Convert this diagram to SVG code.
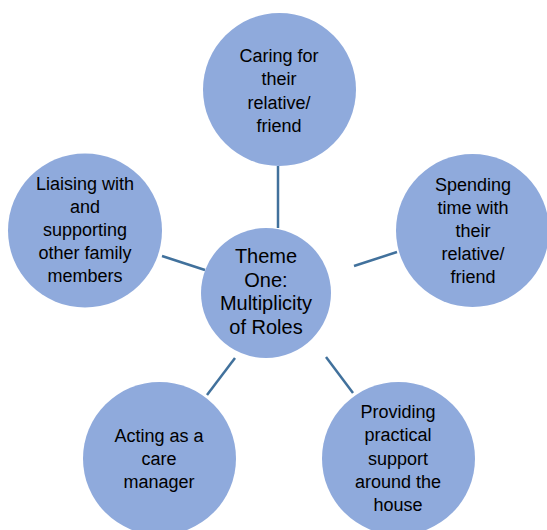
<svg xmlns="http://www.w3.org/2000/svg" width="547" height="530" viewBox="0 0 547 530">
<style>
.n{fill:#8FAADC;}
.t{font-family:"Liberation Sans",Arial,sans-serif;font-size:18px;fill:#000;text-anchor:middle;}
.c{font-size:20px;}
.e{stroke:#41719C;stroke-width:2.5;fill:none;}
</style>
<rect width="547" height="530" fill="#fff"/>
<g id="connectors">
<line class="e" x1="278" y1="166" x2="278" y2="228"/>
<line class="e" x1="354" y1="266" x2="397" y2="252"/>
<line class="e" x1="162" y1="256" x2="205" y2="270"/>
<line class="e" x1="326" y1="357" x2="353" y2="393"/>
<line class="e" x1="207" y1="395" x2="235" y2="358"/>
</g>
<g id="center">
<circle class="n" cx="266" cy="293" r="65"/>
<text class="t c"><tspan x="266" y="263">Theme</tspan><tspan x="266" y="286.5">One:</tspan><tspan x="266" y="310">Multiplicity</tspan><tspan x="266" y="333.5">of Roles</tspan></text>
</g>
<g id="caring">
<circle class="n" cx="279.5" cy="89.5" r="76.5"/>
<text class="t"><tspan x="279" y="62">Caring for</tspan><tspan x="279" y="85.3">their</tspan><tspan x="279" y="108.6">relative/</tspan><tspan x="279" y="132">friend</tspan></text>
</g>
<g id="spending">
<circle class="n" cx="472.5" cy="230.5" r="76.5"/>
<text class="t"><tspan x="473" y="190.5">Spending</tspan><tspan x="473" y="213.5">time with</tspan><tspan x="473" y="236.5">their</tspan><tspan x="473" y="259.5">relative/</tspan><tspan x="473" y="282.5">friend</tspan></text>
</g>
<g id="liaising">
<circle class="n" cx="85" cy="230.5" r="77"/>
<text class="t"><tspan x="85" y="190">Liaising with</tspan><tspan x="85" y="213">and</tspan><tspan x="85" y="236">supporting</tspan><tspan x="85" y="259">other family</tspan><tspan x="85" y="282">members</tspan></text>
</g>
<g id="providing">
<circle class="n" cx="398.5" cy="458.5" r="76.5"/>
<text class="t"><tspan x="398" y="418">Providing</tspan><tspan x="398" y="441.3">practical</tspan><tspan x="398" y="464.6">support</tspan><tspan x="398" y="488">around the</tspan><tspan x="398" y="511.3">house</tspan></text>
</g>
<g id="acting">
<circle class="n" cx="159.5" cy="458.5" r="76.5"/>
<text class="t"><tspan x="159" y="441.5">Acting as a</tspan><tspan x="159" y="464.5">care</tspan><tspan x="159" y="487.5">manager</tspan></text>
</g>
</svg>
